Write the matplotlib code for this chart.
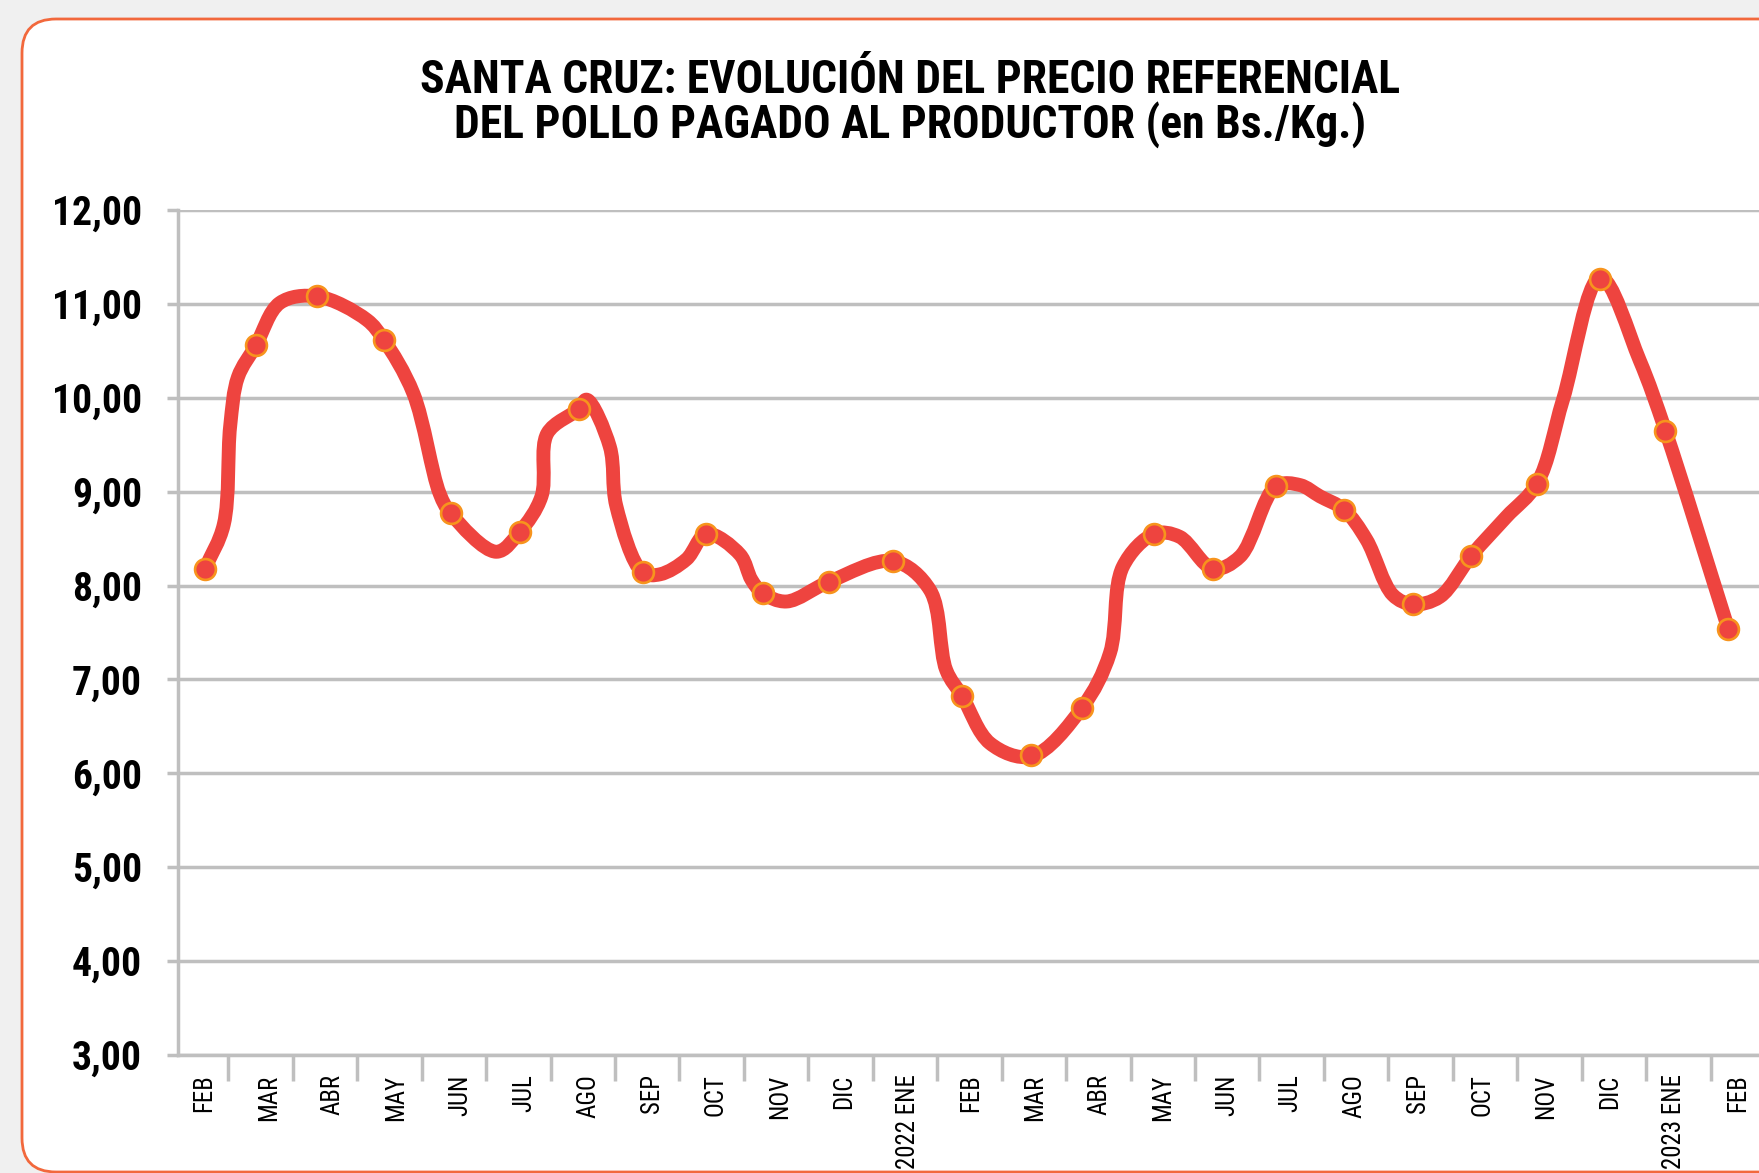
import os
import numpy as np
import matplotlib.pyplot as plt
from matplotlib import font_manager as fm
from matplotlib.path import Path
from matplotlib.patches import PathPatch, FancyBboxPatch
from matplotlib.transforms import IdentityTransform

# eje x en meses contados desde el 1 de febrero de 2021
meses = ['FEB', 'MAR', 'ABR', 'MAY', 'JUN', 'JUL', 'AGO', 'SEP', 'OCT', 'NOV', 'DIC',
         '2022 ENE', 'FEB', 'MAR', 'ABR', 'MAY', 'JUN', 'JUL', 'AGO', 'SEP', 'OCT', 'NOV', 'DIC',
         '2023 ENE', 'FEB']

# precio mensual (marcadores)
x_mensual = [0.64, 1.43, 2.38, 3.41, 4.45, 5.52, 6.44, 7.43, 8.42, 9.29, 10.32, 11.32,
             12.39, 13.46, 14.25, 15.37, 16.28, 17.26, 18.31, 19.38, 20.29, 21.31, 22.29,
             23.30, 24.27]
precio_mensual = [8.18, 10.56, 11.08, 10.62, 8.77, 8.57, 9.88, 8.14, 8.55, 7.92, 8.04, 8.26,
                  6.82, 6.19, 6.70, 8.55, 8.18, 9.06, 8.81, 7.80, 8.31, 9.08, 11.26,
                  9.65, 7.54]

# serie de la linea
x_linea = [0.64, 0.93, 1.03, 1.15, 1.43, 1.80, 2.38, 3.15, 3.41, 3.87, 4.28, 4.45, 5.16, 5.52,
           5.86, 5.95, 6.44, 6.56, 6.92, 7.02, 7.43, 7.70, 8.11, 8.42, 8.94, 9.12, 9.29,
           9.66, 10.32, 11.32, 11.89, 12.14, 12.39, 12.82, 13.46, 14.25, 14.68, 14.88,
           15.37, 15.76, 16.28, 16.70, 17.26, 17.63, 17.94, 18.31, 18.66, 19.07, 19.38,
           19.80, 20.29, 20.83, 21.31, 21.71, 22.29, 22.90, 23.30, 24.27]
precio_linea = [8.18, 8.65, 9.70, 10.22, 10.56, 11.01, 11.08, 10.83, 10.62, 10.05, 8.98, 8.77,
                8.36, 8.57, 8.95, 9.62, 9.88, 9.98, 9.48, 8.85, 8.14, 8.12, 8.28, 8.55, 8.33,
                8.06, 7.92, 7.83, 8.04, 8.26, 7.95, 7.10, 6.82, 6.32, 6.18, 6.70, 7.28, 8.20,
                8.55, 8.52, 8.18, 8.31, 9.06, 9.07, 8.95, 8.81, 8.49, 7.90, 7.80, 7.88, 8.32,
                8.73, 9.09, 9.98, 11.28, 10.40, 9.65, 7.55]

valores_y = list(range(3, 13))

rojo = '#EE443F'
gris = '#BFBFBF'


def buscar_fuente(nombres):
    rutas = fm.findSystemFonts()
    for n in nombres:
        for r in rutas:
            if os.path.basename(r).lower().startswith(n):
                return r
    return None


f_bold = buscar_fuente(['liberationsansnarrow-bold.', 'arialnarrowbold', 'arial narrow bold',
                        'robotocondensed-bold.', 'notosans-condensedbold.',
                        'dejavusanscondensed-bold.', 'liberationsans-bold.'])
f_reg = buscar_fuente(['liberationsansnarrow-regular.', 'arialnarrow.', 'arial narrow.',
                       'robotocondensed-regular.', 'notosans-condensed.',
                       'dejavusanscondensed.', 'liberationsans-regular.'])


def fuente(ruta, peso):
    if ruta:
        return fm.FontProperties(fname=ruta)
    return fm.FontProperties(family='Liberation Sans', weight=peso)


def curva_suave(x, y, sx=64.45, sy=93.9):
    # catmull-rom centripeta en escala de pantalla, pasada a curvas bezier
    p = np.column_stack([np.array(x) * sx, np.array(y) * sy])
    p = np.vstack([2 * p[0] - p[1], p, 2 * p[-1] - p[-2]])
    verts = [p[1]]
    codes = [Path.MOVETO]
    for i in range(1, len(p) - 2):
        p0, p1, p2, p3 = p[i - 1], p[i], p[i + 1], p[i + 2]
        d01 = np.linalg.norm(p1 - p0) ** 0.5
        d12 = np.linalg.norm(p2 - p1) ** 0.5
        d23 = np.linalg.norm(p3 - p2) ** 0.5
        m1 = ((p1 - p0) / d01 - (p2 - p0) / (d01 + d12) + (p2 - p1) / d12) * d12
        m2 = ((p2 - p1) / d12 - (p3 - p1) / (d12 + d23) + (p3 - p2) / d23) * d12
        verts += [p1 + m1 / 3, p2 - m2 / 3, p2]
        codes += [Path.CURVE4] * 3
    verts = np.array(verts) / [sx, sy]
    return Path(verts, codes)


fig = plt.figure(figsize=(17.59, 11.73), dpi=100, facecolor='#F0F0F0')
marco = FancyBboxPatch((22, 1), 1800, 1153, boxstyle='round,pad=0,rounding_size=34',
                       transform=IdentityTransform(), fc='white', ec='#F2683C', lw=2,
                       zorder=-1)
fig.add_artist(marco)

ax = fig.add_axes([178 / 1759, 118 / 1173, 1597 / 1759, 845 / 1173])
ax.set_facecolor('none')

ax.add_patch(PathPatch(curva_suave(x_linea, precio_linea), fill=False, ec=rojo, lw=10,
                       capstyle='round', joinstyle='round', zorder=3))
ax.plot(x_mensual, precio_mensual, 'o', ls='none', ms=15, mfc=rojo, mec='#F7941D', mew=1.9,
        zorder=4, clip_on=False)

ax.set_xlim(0.22, 25)
ax.set_ylim(3, 12)

fp_y = fuente(f_bold, 'bold')
fp_x = fuente(f_reg, 'normal')

ax.set_yticks(valores_y, labels=[f'{v:.2f}'.replace('.', ',') for v in valores_y],
              fontproperties=fp_y)
ax.grid(axis='y', color=gris, lw=2.5)
ax.set_axisbelow(True)

centros = [0.62] + [1.63 + 0.991 * (i - 1) for i in range(1, 25)]
ax.set_xticks(range(1, 25), labels=[])
ax.set_xticks(centros, labels=meses, minor=True, rotation=90, fontproperties=fp_x)

ax.tick_params(axis='y', length=8, width=2.5, color=gris, pad=18)
ax.tick_params(axis='x', which='major', length=19, width=2.5, color=gris)
ax.tick_params(axis='x', which='minor', length=0, pad=14)

for s in ['top', 'right']:
    ax.spines[s].set_visible(False)
for s in ['left', 'bottom']:
    ax.spines[s].set_color(gris)
    ax.spines[s].set_linewidth(2.5)

titulo = fig.text(910 / 1759, 1 - 103 / 1173,
                  'SANTA CRUZ: EVOLUCIÓN DEL PRECIO REFERENCIAL\n'
                  'DEL POLLO PAGADO AL PRODUCTOR (en Bs./Kg.)',
                  ha='center', va='center', ma='center', fontproperties=fuente(f_bold, 'bold'),
                  linespacing=0.95)

# ajustar tamanos al ancho que tienen los textos en la imagen original
r = fig.canvas.get_renderer()
titulo.set_fontsize(30)
titulo.set_fontsize(30 * 979 / titulo.get_window_extent(r).width)

ylab = ax.get_yticklabels()
for t in ylab:
    t.set_fontsize(28)
k = 90 / ylab[-1].get_window_extent(r).width
for t in ylab:
    t.set_fontsize(28 * k)

xlab = ax.get_xticklabels(minor=True)
for t in xlab:
    t.set_fontsize(18)
k = 95 / xlab[11].get_window_extent(r).height
for t in xlab:
    t.set_fontsize(18 * k)

fig.savefig('out.png', dpi=100, facecolor=fig.get_facecolor())
